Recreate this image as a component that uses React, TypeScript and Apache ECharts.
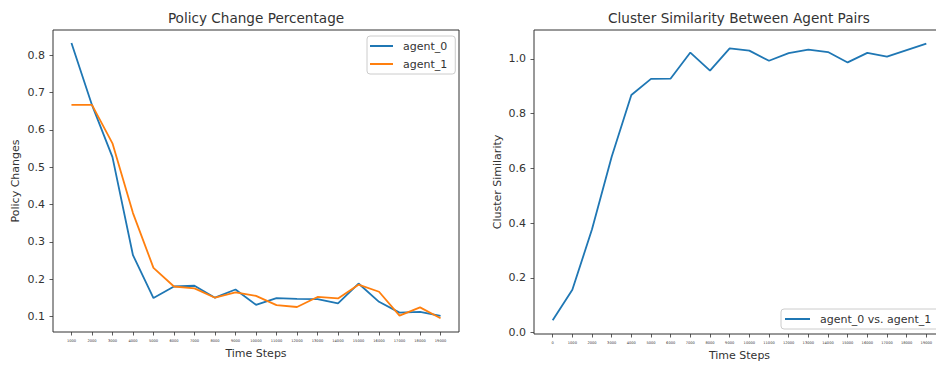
import React, { useEffect, useRef } from "react";
import * as echarts from "echarts";

// Time steps for the policy-change panel
const policySteps = [1000, 2000, 3000, 4000, 5000, 6000, 7000, 8000, 9000, 10000, 11000, 12000, 13000, 14000, 15000, 16000, 17000, 18000, 19000];
const agent0Changes = [0.833, 0.667, 0.527, 0.264, 0.149, 0.18, 0.182, 0.15, 0.172, 0.131, 0.149, 0.147, 0.146, 0.135, 0.188, 0.139, 0.11, 0.112, 0.101];
const agent1Changes = [0.667, 0.667, 0.564, 0.377, 0.23, 0.18, 0.175, 0.15, 0.164, 0.155, 0.13, 0.125, 0.152, 0.148, 0.185, 0.166, 0.102, 0.124, 0.095];

// Time steps for the cluster-similarity panel
const clusterSteps = [0, 1000, 2000, 3000, 4000, 5000, 6000, 7000, 8000, 9000, 10000, 11000, 12000, 13000, 14000, 15000, 16000, 17000, 18000, 19000];
const pairSimilarity = [0.045, 0.156, 0.377, 0.642, 0.868, 0.927, 0.928, 1.023, 0.957, 1.038, 1.03, 0.993, 1.021, 1.034, 1.025, 0.987, 1.022, 1.008, 1.032, 1.056];

// Tick labels
const policyYTicks = [0.1, 0.2, 0.3, 0.4, 0.5, 0.6, 0.7, 0.8];
const clusterYTicks = [0.0, 0.2, 0.4, 0.6, 0.8, 1.0];

const FONT = "DejaVu Sans";
const INK = "#333333";
const BLUE = "#1f77b4";
const ORANGE = "#ff7f0e";

function xAxisFor(gridIndex: number, min: number, max: number, ticks: number[]) {
  return {
    type: "value",
    gridIndex,
    min,
    max,
    name: "Time Steps",
    nameLocation: "middle",
    nameGap: 15,
    nameTextStyle: { fontFamily: FONT, fontSize: 11, color: INK },
    splitLine: { show: false },
    axisLine: { show: false, onZero: false },
    axisTick: { show: true, length: 3.5, customValues: ticks, lineStyle: { color: INK, width: 0.8 } },
    axisLabel: {
      customValues: ticks,
      margin: 7,
      fontFamily: FONT,
      fontSize: 3.6,
      color: INK,
      formatter: (v: number) => String(v),
    },
  };
}

function yAxisFor(gridIndex: number, min: number, max: number, ticks: number[], name: string, gap: number) {
  return {
    type: "value",
    gridIndex,
    min,
    max,
    name,
    nameLocation: "middle",
    nameGap: gap,
    nameTextStyle: { fontFamily: FONT, fontSize: 11, color: INK },
    splitLine: { show: false },
    axisLine: { show: false, onZero: false },
    axisTick: { show: true, length: 3.5, customValues: ticks, lineStyle: { color: INK, width: 0.8 } },
    axisLabel: {
      customValues: ticks,
      margin: 8,
      fontFamily: FONT,
      fontSize: 11,
      color: INK,
      formatter: (v: number) => v.toFixed(1),
    },
  };
}

export default function App() {
  const ref = useRef<HTMLDivElement>(null);

  useEffect(() => {
    if (!ref.current) return;
    const chart = echarts.init(ref.current, undefined, { renderer: "svg" });

    const legendText = { fontFamily: FONT, fontSize: 11, color: INK, padding: [0, 0, 0, 5] };

    chart.setOption({
      animation: false,
      backgroundColor: "#ffffff",
      grid: [
        {
          left: 53, top: 30, width: 406, height: 302,
          show: true, borderColor: INK, borderWidth: 1, backgroundColor: "transparent",
          outerBoundsMode: "none", containLabel: false,
        },
        {
          // the right panel runs past the page edge
          left: 534, top: 30, width: 411, height: 304,
          show: true, borderColor: INK, borderWidth: 1, backgroundColor: "transparent",
          outerBoundsMode: "none", containLabel: false,
        },
      ],
      xAxis: [
        xAxisFor(0, 100, 19900, policySteps),
        xAxisFor(1, -950, 19950, clusterSteps),
      ],
      yAxis: [
        yAxisFor(0, 0.058, 0.868, policyYTicks, "Policy Changes", 32),
        yAxisFor(1, -0.0055, 1.1055, clusterYTicks, "Cluster Similarity", 31),
      ],
      legend: [
        {
          data: ["agent_0", "agent_1"],
          orient: "vertical",
          left: 367,
          top: 36,
          padding: [3, 8, 3, 3],
          itemGap: 4,
          itemWidth: 23,
          itemHeight: 2,
          icon: "rect",
          borderColor: "#cccccc",
          borderWidth: 1,
          borderRadius: 3,
          textStyle: { ...legendText, lineHeight: 14 },
        },
        {
          data: ["agent_0 vs. agent_1"],
          orient: "vertical",
          left: 781,
          top: 309,
          padding: [3, 8, 3, 4],
          itemWidth: 25,
          itemHeight: 2,
          icon: "rect",
          borderColor: "#cccccc",
          borderWidth: 1,
          borderRadius: 3,
          textStyle: { ...legendText, lineHeight: 14 },
        },
      ],
      graphic: [
        {
          type: "text",
          x: 256,
          y: 18,
          style: { text: "Policy Change Percentage", fontFamily: FONT, fontSize: 13.6, fill: INK, align: "center", verticalAlign: "middle" },
        },
        {
          type: "text",
          x: 739,
          y: 18,
          style: { text: "Cluster Similarity Between Agent Pairs", fontFamily: FONT, fontSize: 13.6, fill: INK, align: "center", verticalAlign: "middle" },
        },
      ],
      series: [
        {
          name: "agent_0",
          type: "line",
          xAxisIndex: 0,
          yAxisIndex: 0,
          showSymbol: false,
          lineStyle: { color: BLUE, width: 1.8 },
          itemStyle: { color: BLUE },
          data: policySteps.map((s, i) => [s, agent0Changes[i]]),
        },
        {
          name: "agent_1",
          type: "line",
          xAxisIndex: 0,
          yAxisIndex: 0,
          showSymbol: false,
          lineStyle: { color: ORANGE, width: 1.8 },
          itemStyle: { color: ORANGE },
          data: policySteps.map((s, i) => [s, agent1Changes[i]]),
        },
        {
          name: "agent_0 vs. agent_1",
          type: "line",
          xAxisIndex: 1,
          yAxisIndex: 1,
          showSymbol: false,
          lineStyle: { color: BLUE, width: 1.8 },
          itemStyle: { color: BLUE },
          data: clusterSteps.map((s, i) => [s, pairSimilarity[i]]),
        },
      ],
    });

    return () => chart.dispose();
  }, []);

  return (
    <div
      ref={ref}
      style={{ position: "absolute", left: 0, top: 0, width: 936, height: 367, overflow: "hidden" }}
    />
  );
}
